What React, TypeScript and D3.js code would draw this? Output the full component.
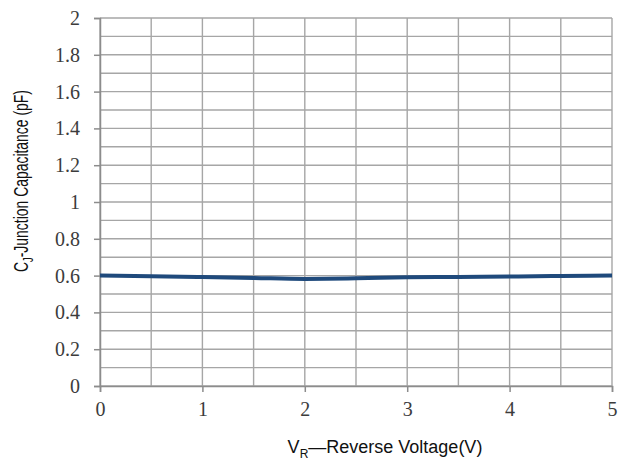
import { useRef, useEffect } from 'react';
import * as d3 from 'd3';

// reverse voltage (V) vs junction capacitance (pF)
const voltage = [0, 0.5, 1, 1.5, 2, 2.5, 3, 3.5, 4, 4.5, 5];
const capacitance = [0.6, 0.597, 0.592, 0.587, 0.582, 0.585, 0.591, 0.593, 0.595, 0.598, 0.6];

const xTicks = [0, 1, 2, 3, 4, 5];
const yTicks = [0, 0.2, 0.4, 0.6, 0.8, 1, 1.2, 1.4, 1.6, 1.8, 2];

const serif = 'Liberation Serif, DejaVu Serif, serif';
const sans = 'Liberation Sans, Arial, sans-serif';

export default function App() {
  const svgRef = useRef<SVGSVGElement>(null);
  const width = 618;
  const height = 466;

  useEffect(() => {
    if (!svgRef.current) return;
    const svg = d3.select(svgRef.current);
    svg.selectAll('*').remove();

    const margin = { top: 18, right: 6, bottom: 80, left: 100 };
    const innerWidth = width - margin.left - margin.right;
    const innerHeight = height - margin.top - margin.bottom;

    svg.append('rect').attr('width', width).attr('height', height).attr('fill', '#fff');

    const g = svg.append('g').attr('transform', `translate(${margin.left},${margin.top})`);

    const xScale = d3.scaleLinear().domain([0, 5]).range([0, innerWidth]);
    const yScale = d3.scaleLinear().domain([0, 2]).range([innerHeight, 0]);

    const gridColor = '#a6a6a6';

    // horizontal grid every 0.1
    g.append('g')
      .selectAll('line')
      .data(d3.range(0, 21).map(i => i / 10))
      .enter()
      .append('line')
      .attr('x1', 0)
      .attr('x2', innerWidth)
      .attr('y1', d => yScale(d))
      .attr('y2', d => yScale(d))
      .attr('stroke', gridColor)
      .attr('stroke-width', 1.4);

    // vertical grid every 0.5
    g.append('g')
      .selectAll('line')
      .data(d3.range(0, 11).map(i => i / 2))
      .enter()
      .append('line')
      .attr('x1', d => xScale(d))
      .attr('x2', d => xScale(d))
      .attr('y1', 0)
      .attr('y2', innerHeight)
      .attr('stroke', gridColor)
      .attr('stroke-width', 1.4);

    // Y axis
    const yg = g.append('g').call(
      d3.axisLeft(yScale)
        .tickValues(yTicks)
        .tickSize(6)
        .tickPadding(14)
        .tickFormat(d => String(d))
    );
    yg.attr('font-family', serif).attr('font-size', 20);
    yg.select('.domain').attr('stroke', '#8c8c8c').attr('stroke-width', 1.5);
    yg.selectAll('.tick line').attr('stroke', '#8c8c8c').attr('stroke-width', 1.5);
    yg.selectAll('.tick text').attr('font-family', serif).attr('fill', '#3c3c3c');

    // X axis
    const xg = g.append('g').attr('transform', `translate(0,${innerHeight})`).call(
      d3.axisBottom(xScale)
        .tickValues(xTicks)
        .tickSize(6)
        .tickPadding(10)
        .tickFormat(d => String(d))
    );
    xg.attr('font-family', serif).attr('font-size', 20);
    xg.select('.domain').attr('stroke', '#8c8c8c').attr('stroke-width', 1.5);
    xg.selectAll('.tick line').attr('stroke', '#8c8c8c').attr('stroke-width', 1.5);
    xg.selectAll('.tick text').attr('font-family', serif).attr('fill', '#3c3c3c');

    // curve
    const line = d3.line<number>()
      .x((_, i) => xScale(voltage[i]))
      .y(d => yScale(d))
      .curve(d3.curveMonotoneX);

    g.append('path')
      .datum(capacitance)
      .attr('fill', 'none')
      .attr('stroke', '#1f4a7c')
      .attr('stroke-width', 4)
      .attr('d', line);

    // Y-axis label
    const yLabel = svg.append('text')
      .attr('transform', 'translate(28,181) rotate(-90)')
      .attr('text-anchor', 'middle')
      .attr('font-family', sans)
      .attr('font-size', 21)
      .attr('fill', '#111')
      .attr('textLength', 182)
      .attr('lengthAdjust', 'spacingAndGlyphs');
    yLabel.append('tspan').text('C');
    yLabel.append('tspan').attr('font-size', 14).attr('dy', 5).text('J');
    yLabel.append('tspan').attr('dy', -5).text('-Junction Capacitance (pF)');

    // X-axis label
    const xLabel = svg.append('text')
      .attr('x', 385)
      .attr('y', 453)
      .attr('text-anchor', 'middle')
      .attr('font-family', sans)
      .attr('font-size', 18)
      .attr('fill', '#111');
    xLabel.append('tspan').text('V');
    xLabel.append('tspan').attr('font-size', 12).attr('dy', 5).text('R');
    xLabel.append('tspan').attr('dy', -5).text('—Reverse Voltage(V)');
  }, []);

  return (
    <svg
      ref={svgRef}
      width={width}
      height={height}
      style={{ position: 'absolute', left: 0, top: 0, display: 'block' }}
    />
  );
}
